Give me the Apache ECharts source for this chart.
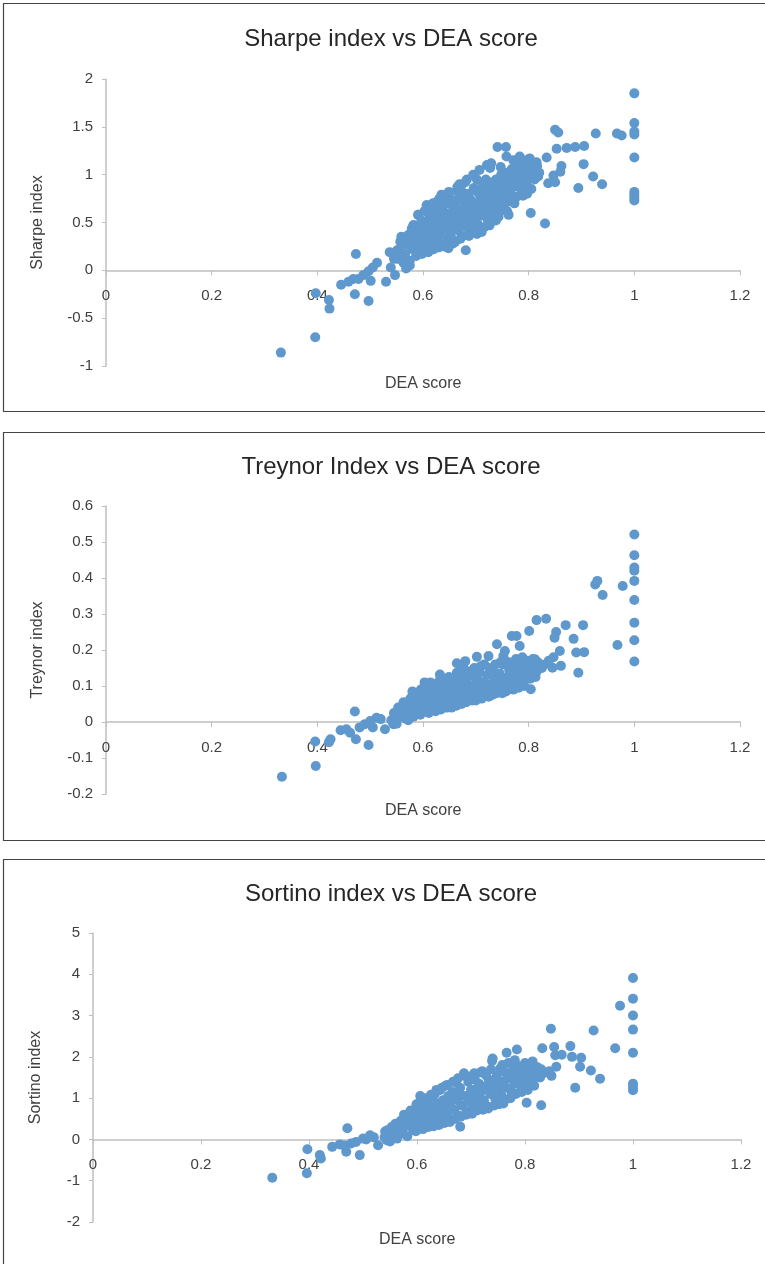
<!DOCTYPE html>
<html>
<head>
<meta charset="utf-8">
<title>Performance indices vs DEA score</title>
<script src="https://cdn.jsdelivr.net/npm/echarts@6/dist/echarts.min.js"></script>
<style>
  html, body { margin: 0; padding: 0; background: #ffffff; }
  #chart { width: 765px; height: 1264px; }
</style>
</head>
<body>
<div id="chart"></div>
<script>
// Panel titles and axis names
const panelTitles = ['Sharpe index vs DEA score', 'Treynor Index vs DEA score', 'Sortino index vs DEA score'];
const yAxisNames = ['Sharpe index', 'Treynor index', 'Sortino index'];
const xAxisName = 'DEA score';

// Axis ranges (min, max, step)
const xRange = [0, 1.2, 0.2];
const yRanges = [[-1, 2, 0.5], [-0.2, 0.6, 0.1], [-2, 5, 1]];

// Sharpe index against DEA score, [dea, sharpe]
const sharpePoints = [
  [1.000,1.85],[1.000,1.54],[1.000,1.45],[1.000,1.42],[1.000,1.18],[1.000,0.82],[1.000,0.79],[1.000,0.76],[1.000,0.73],
  [0.967,1.43],[0.976,1.41],[0.927,1.43],[0.850,1.47],[0.856,1.44],[0.853,1.27],[0.872,1.28],[0.888,1.29],[0.905,1.30],
  [0.834,1.18],[0.904,1.11],[0.862,1.09],[0.847,0.99],[0.860,1.03],[0.922,0.98],[0.939,0.90],[0.894,0.86],[0.837,0.91],[0.850,0.92],
  [0.804,0.60],[0.831,0.49],[0.797,0.80],[0.741,1.29],[0.757,1.29],[0.721,1.10],[0.727,1.07],[0.758,1.19],[0.771,1.15],[0.783,1.19],
  [0.802,1.17],[0.815,1.13],[0.818,0.98],[0.809,1.01],[0.777,0.77],[0.762,0.58],[0.738,0.52],[0.726,0.47],[0.702,0.38],[0.681,0.21],
  [0.635,0.79],[0.631,0.75],[0.665,0.87],[0.607,0.68],[0.591,0.58],[0.582,0.47],[0.579,0.44],[0.557,0.30],
  [0.473,0.17],[0.513,0.08],[0.505,0.03],[0.497,-0.01],[0.487,-0.05],[0.478,-0.09],[0.468,-0.09],[0.459,-0.12],[0.445,-0.15],
  [0.471,-0.25],[0.497,-0.32],[0.501,-0.11],[0.530,-0.12],[0.547,-0.05],[0.539,0.03],[0.575,0.05],[0.568,0.02],[0.588,0.18],
  [0.610,0.19],[0.648,0.23],[0.626,0.24],[0.657,0.28],[0.545,0.12],[0.537,0.19],[0.551,0.21],[0.559,0.35],[0.572,0.37],[0.594,0.35],
  [0.331,-0.86],[0.396,-0.70],[0.397,-0.24],[0.422,-0.31],[0.423,-0.40],
  [0.552,0.12],[0.556,0.22],[0.560,0.30],[0.563,0.08],[0.566,0.17],[0.570,0.27],[0.572,0.36],[0.575,0.10],[0.578,0.40],[0.580,0.22],
  [0.582,0.47],[0.584,0.31],[0.587,0.15],[0.589,0.38],[0.591,0.58],[0.593,0.26],[0.595,0.44],[0.597,0.52],[0.599,0.33],[0.601,0.20],
  [0.603,0.62],[0.605,0.48],[0.607,0.68],[0.608,0.39],[0.610,0.28],[0.612,0.55],[0.614,0.45],[0.616,0.35],[0.618,0.63],[0.620,0.22],
  [0.622,0.50],[0.624,0.41],[0.626,0.58],[0.628,0.30],[0.630,0.66],[0.632,0.47],[0.634,0.37],[0.636,0.55],[0.638,0.26],[0.640,0.61],
  [0.642,0.44],[0.644,0.70],[0.646,0.33],[0.648,0.52],[0.650,0.76],[0.652,0.40],[0.654,0.60],[0.656,0.48],[0.658,0.30],[0.660,0.68],
  [0.662,0.55],[0.664,0.83],[0.666,0.42],[0.668,0.63],[0.670,0.50],[0.672,0.88],[0.674,0.36],[0.676,0.72],[0.678,0.58],[0.680,0.92],
  [0.682,0.45],[0.684,0.66],[0.686,0.80],[0.688,0.52],[0.690,0.74],[0.692,0.40],[0.694,0.62],[0.696,0.86],[0.698,0.55],[0.700,0.70],
  [0.702,0.95],[0.704,0.48],[0.706,0.63],[0.708,0.78],[0.710,0.57],[0.712,0.88],[0.714,0.68],[0.716,0.45],[0.718,0.82],[0.720,0.60],
  [0.722,0.74],[0.724,0.92],[0.726,0.66],[0.728,0.54],[0.730,0.85],[0.732,0.70],[0.734,0.60],[0.736,0.78],[0.738,0.95],[0.740,0.68],
  [0.742,0.88],[0.744,0.74],[0.746,0.62],[0.748,1.00],[0.750,0.82],[0.752,0.70],[0.754,0.92],[0.756,0.78],[0.758,1.02],[0.760,0.86],
  [0.762,0.72],[0.764,0.96],[0.766,0.84],[0.768,1.06],[0.770,0.90],[0.772,0.76],[0.774,1.00],[0.776,0.88],[0.778,1.10],[0.780,0.94],
  [0.782,1.04],[0.784,0.86],[0.786,0.98],[0.788,1.12],[0.790,0.92],[0.792,1.05],[0.794,0.99],[0.796,1.15],[0.798,1.02],[0.800,0.95],
  [0.803,1.08],[0.806,1.00],[0.809,1.12],[0.812,1.04],[0.816,1.09],[0.820,1.02],
  [0.598,0.17],[0.604,0.26],[0.611,0.64],[0.615,0.22],[0.619,0.70],[0.623,0.33],[0.627,0.72],[0.630,0.24],[0.633,0.52],[0.637,0.78],
  [0.641,0.25],[0.645,0.57],[0.649,0.82],[0.653,0.35],[0.657,0.64],[0.661,0.30],[0.665,0.74],[0.669,0.90],[0.671,0.33],[0.675,0.55],
  [0.679,0.80],[0.683,0.95],[0.687,0.36],[0.691,0.60],[0.695,1.00],[0.699,0.48],[0.703,0.82],[0.707,1.05],[0.711,0.40],[0.715,0.75],
  [0.719,0.95],[0.723,0.52],[0.729,1.12],[0.733,0.62],[0.737,0.88],[0.743,0.56],[0.747,1.08],[0.751,0.66],[0.755,0.86],[0.759,0.62],
  [0.765,0.78],[0.769,0.98],[0.773,0.70],[0.779,0.88],[0.785,1.08],[0.789,0.78],[0.795,0.90],[0.801,1.10],[0.805,0.85],[0.811,0.95],
  [0.606,0.40],[0.617,0.52],[0.629,0.42],[0.639,0.50],[0.651,0.45],[0.663,0.48],[0.673,0.62],[0.685,0.56],[0.697,0.64],[0.709,0.68],
  [0.721,0.82],[0.731,0.76],[0.741,0.80],[0.753,0.96]
];

// Treynor index against DEA score, [dea, treynor]
const treynorPoints = [
  [1.000,0.521],[1.000,0.463],[1.000,0.429],[1.000,0.420],[1.000,0.392],[1.000,0.339],[1.000,0.276],[1.000,0.227],[1.000,0.168],
  [0.926,0.382],[0.930,0.392],[0.940,0.353],[0.978,0.378],[0.968,0.214],
  [0.903,0.269],[0.905,0.194],[0.890,0.193],[0.894,0.137],[0.885,0.231],[0.870,0.269],[0.852,0.250],[0.849,0.234],[0.859,0.197],
  [0.861,0.156],[0.845,0.151],[0.833,0.287],[0.815,0.283],[0.801,0.253],[0.804,0.091],[0.812,0.174],[0.783,0.211],[0.777,0.239],
  [0.768,0.239],[0.740,0.216],[0.752,0.183],[0.755,0.197],[0.724,0.183],[0.702,0.181],[0.680,0.169],[0.664,0.163],[0.664,0.137],
  [0.632,0.132],[0.847,0.180],[0.838,0.170],[0.830,0.160],
  [0.471,0.029],[0.512,0.012],[0.500,0.003],[0.490,-0.006],[0.444,-0.023],[0.455,-0.020],[0.462,-0.030],[0.473,-0.048],[0.497,-0.064],
  [0.396,-0.054],[0.422,-0.056],[0.425,-0.048],[0.397,-0.122],[0.333,-0.152],[0.528,-0.020],[0.544,-0.006],[0.520,0.008],[0.505,-0.015],
  [0.480,-0.015],
  [0.540,0.005],[0.545,0.025],[0.550,-0.005],[0.553,0.040],[0.556,0.015],[0.560,0.030],[0.563,0.055],[0.566,0.010],[0.570,0.045],
  [0.573,0.025],[0.576,0.065],[0.579,0.040],[0.582,0.015],[0.585,0.080],[0.588,0.050],[0.590,0.030],[0.593,0.070],[0.596,0.090],
  [0.599,0.045],[0.601,0.060],[0.604,0.100],[0.606,0.030],[0.609,0.075],[0.612,0.055],[0.614,0.110],[0.617,0.040],[0.620,0.085],
  [0.622,0.065],[0.625,0.100],[0.627,0.045],[0.630,0.075],[0.633,0.125],[0.635,0.055],[0.638,0.090],[0.640,0.070],[0.643,0.105],
  [0.645,0.040],[0.648,0.080],[0.650,0.060],[0.653,0.095],[0.656,0.115],[0.658,0.050],[0.661,0.085],[0.664,0.070],[0.666,0.130],
  [0.669,0.100],[0.672,0.060],[0.675,0.090],[0.677,0.150],[0.680,0.075],[0.683,0.110],[0.686,0.065],[0.689,0.095],[0.692,0.130],
  [0.695,0.080],[0.698,0.105],[0.700,0.060],[0.703,0.120],[0.706,0.090],[0.709,0.155],[0.712,0.075],[0.715,0.110],[0.718,0.095],
  [0.721,0.130],[0.724,0.070],[0.727,0.105],[0.730,0.145],[0.733,0.090],[0.736,0.120],[0.739,0.080],[0.742,0.110],[0.745,0.135],
  [0.748,0.095],[0.751,0.160],[0.754,0.115],[0.757,0.085],[0.760,0.125],[0.763,0.145],[0.766,0.100],[0.769,0.130],[0.772,0.110],
  [0.775,0.150],[0.778,0.120],[0.781,0.095],[0.784,0.140],[0.787,0.160],[0.790,0.115],[0.793,0.135],[0.796,0.150],[0.799,0.125],
  [0.802,0.145],[0.806,0.130],[0.810,0.155],[0.815,0.140],[0.820,0.150],
  [0.595,0.020],[0.603,0.110],[0.611,0.025],[0.618,0.095],[0.624,0.030],[0.629,0.110],[0.634,0.035],[0.639,0.115],[0.644,0.045],
  [0.649,0.125],[0.654,0.040],[0.659,0.105],[0.663,0.045],[0.668,0.120],[0.673,0.050],[0.678,0.130],[0.682,0.055],[0.688,0.140],
  [0.693,0.060],[0.697,0.150],[0.702,0.070],[0.707,0.140],[0.711,0.065],[0.716,0.160],[0.720,0.080],[0.726,0.150],[0.731,0.075],
  [0.737,0.160],[0.741,0.090],[0.746,0.165],[0.750,0.080],[0.756,0.170],[0.761,0.100],[0.767,0.165],[0.771,0.090],[0.776,0.175],
  [0.782,0.110],[0.788,0.180],[0.792,0.100],[0.797,0.170],[0.803,0.120],[0.808,0.175],[0.813,0.125],[0.818,0.165],[0.825,0.150],
  [0.580,0.085],[0.572,0.005],[0.586,0.060],[0.700,0.100],[0.735,0.105]
];

// Sortino index against DEA score, [dea, sortino]
const sortinoPoints = [
  [1.000,3.91],[1.000,3.41],[1.000,3.00],[1.000,2.66],[1.000,2.10],[1.000,1.35],[1.000,1.27],[1.000,1.19],
  [0.976,3.24],[0.967,2.21],[0.927,2.64],[0.939,1.47],[0.922,1.67],[0.904,1.98],[0.902,1.76],[0.887,2.00],[0.884,2.26],[0.893,1.25],
  [0.868,2.05],[0.856,2.04],[0.854,2.24],[0.848,2.68],[0.832,2.21],[0.858,1.76],[0.849,1.54],[0.845,1.65],[0.830,0.83],[0.803,0.89],
  [0.814,1.89],[0.785,2.18],[0.766,2.10],[0.740,1.96],[0.781,1.92],[0.760,0.87],[0.680,0.31],[0.830,1.70],[0.822,1.55],[0.812,1.73],
  [0.838,1.62],
  [0.471,0.27],[0.513,0.10],[0.500,0.02],[0.487,-0.06],[0.478,-0.10],[0.457,-0.12],[0.443,-0.18],[0.466,-0.15],[0.469,-0.30],
  [0.494,-0.38],[0.528,-0.14],[0.544,-0.02],[0.541,0.19],[0.520,0.05],[0.506,0.00],
  [0.397,-0.24],[0.420,-0.38],[0.422,-0.46],[0.396,-0.82],[0.332,-0.93],
  [0.540,0.05],[0.545,0.22],[0.550,-0.05],[0.553,0.30],[0.556,0.12],[0.560,0.38],[0.563,0.02],[0.566,0.25],[0.570,0.45],[0.573,0.15],
  [0.576,0.60],[0.579,0.32],[0.582,0.08],[0.585,0.52],[0.588,0.70],[0.590,0.40],[0.593,0.22],[0.596,0.62],[0.599,0.85],[0.601,0.48],
  [0.604,0.30],[0.606,1.05],[0.609,0.70],[0.612,0.55],[0.614,0.38],[0.617,0.82],[0.620,0.62],[0.622,0.95],[0.625,0.45],[0.627,0.75],
  [0.630,0.58],[0.633,1.10],[0.635,0.88],[0.638,0.40],[0.640,0.68],[0.643,1.20],[0.645,0.52],[0.648,0.95],[0.650,0.78],[0.653,1.30],
  [0.656,0.62],[0.658,1.05],[0.661,0.85],[0.664,0.48],[0.666,1.15],[0.669,0.72],[0.672,1.38],[0.675,0.95],[0.677,0.58],[0.680,1.25],
  [0.683,0.82],[0.686,1.55],[0.689,1.05],[0.692,0.68],[0.695,1.40],[0.698,0.90],[0.700,1.20],[0.703,0.75],[0.706,1.60],[0.709,1.08],
  [0.712,0.88],[0.715,1.35],[0.718,1.15],[0.721,1.65],[0.724,0.95],[0.727,1.28],[0.730,0.80],[0.733,1.45],[0.736,1.10],[0.739,1.90],
  [0.742,1.30],[0.745,0.98],[0.748,1.55],[0.751,1.20],[0.754,1.72],[0.757,1.05],[0.760,1.40],[0.763,1.62],[0.766,1.25],[0.769,1.85],
  [0.772,1.48],[0.775,1.15],[0.778,1.68],[0.781,1.35],[0.784,1.55],[0.787,1.78],[0.790,1.42],[0.793,1.25],[0.796,1.62],[0.799,1.50],
  [0.802,1.72],[0.806,1.38],[0.810,1.58],[0.815,1.45],[0.820,1.65],
  [0.598,0.20],[0.605,0.90],[0.611,0.25],[0.616,1.00],[0.621,0.30],[0.626,1.08],[0.631,0.32],[0.636,1.20],[0.641,0.35],[0.646,1.25],
  [0.651,0.40],[0.656,1.32],[0.661,0.42],[0.667,1.40],[0.671,0.50],[0.676,1.48],[0.681,0.55],[0.687,1.60],[0.691,0.60],[0.697,1.52],
  [0.702,0.62],[0.707,1.45],[0.711,0.70],[0.717,1.62],[0.722,0.72],[0.728,1.55],[0.732,0.75],[0.737,1.70],[0.743,0.82],[0.747,1.40],
  [0.752,0.85],[0.758,1.80],[0.762,0.95],[0.768,1.60],[0.773,1.00],[0.779,1.85],[0.783,1.10],[0.789,1.70],[0.794,1.15],[0.800,1.85],
  [0.805,1.20],[0.811,1.50],[0.817,1.30],[0.823,1.75],[0.828,1.50],[0.590,0.60],[0.603,0.68],[0.618,0.50],[0.632,0.85],[0.647,0.70],
  [0.662,1.00],[0.678,1.10],[0.694,1.00],[0.712,1.25],[0.731,1.20],[0.750,1.35]
];

const panelData = [sharpePoints, treynorPoints, sortinoPoints];

// Layout of the three stacked panels
const FONT = 'Liberation Sans';
const panels = [
  { frameTop: 3.5, frameBottom: 411.5, titleTop: 27, gridTop: 79, gridHeight: 287, gridLeft: 106, gridRight: 25, xNameY: 384, nameGap: 60 },
  { frameTop: 432.5, frameBottom: 840.5, titleTop: 455, gridTop: 506, gridHeight: 288, gridLeft: 106, gridRight: 25, xNameY: 811, nameGap: 60 },
  { frameTop: 859.5, frameBottom: 1290, titleTop: 882, gridTop: 933, gridHeight: 289, gridLeft: 93, gridRight: 24, xNameY: 1240, nameGap: 49 }
];

const axisGray = '#bfbfbf';
const labelColor = '#404040';
const dotColor = '#5f98cd';

// The horizontal axis crosses the vertical one at zero: shift it up from the grid bottom
function zeroOffset(i) {
  const [lo, hi] = yRanges[i];
  return -panels[i].gridHeight * (0 - lo) / (hi - lo);
}

const option = {
  animation: false,
  backgroundColor: '#ffffff',
  textStyle: { fontFamily: FONT },
  title: panels.map((p, i) => ({
    text: panelTitles[i],
    left: 391,
    textAlign: 'center',
    top: p.titleTop,
    padding: 0,
    textStyle: { fontFamily: FONT, fontSize: 24, fontWeight: 'normal', color: '#262626' }
  })),
  grid: panels.map(p => ({
    left: p.gridLeft, right: p.gridRight, top: p.gridTop, height: p.gridHeight, containLabel: false
  })),
  xAxis: panels.map((p, i) => ({
    type: 'value',
    gridIndex: i,
    position: 'bottom',
    offset: zeroOffset(i),
    min: xRange[0], max: xRange[1], interval: xRange[2],
    axisLine: { show: true, onZero: false, lineStyle: { color: axisGray, width: 1.5 } },
    axisTick: { show: true, length: 5, lineStyle: { color: axisGray, width: 1 } },
    axisLabel: { margin: 18, fontSize: 15, color: labelColor, fontFamily: FONT },
    splitLine: { show: false }
  })),
  yAxis: panels.map((p, i) => ({
    type: 'value',
    gridIndex: i,
    min: yRanges[i][0], max: yRanges[i][1], interval: yRanges[i][2],
    name: yAxisNames[i],
    nameLocation: 'middle',
    nameRotate: 90,
    nameGap: p.nameGap,
    nameTextStyle: { fontSize: 16, color: labelColor, fontFamily: FONT },
    axisLine: { show: true, onZero: false, lineStyle: { color: axisGray, width: 1.5 } },
    axisTick: { show: true, length: 4, lineStyle: { color: axisGray, width: 1 } },
    axisLabel: { margin: 13, fontSize: 15, color: labelColor, fontFamily: FONT },
    splitLine: { show: false }
  })),
  graphic: panels.flatMap(p => [
    {
      type: 'rect',
      shape: { x: 3.5, y: p.frameTop, width: 800, height: p.frameBottom - p.frameTop },
      style: { fill: 'none', stroke: '#444444', lineWidth: 1.2 },
      silent: true, z: -1
    },
    {
      type: 'text',
      left: p.gridLeft + (765 - p.gridLeft - p.gridRight) / 2 - 38,
      top: p.xNameY - 8,
      style: { text: xAxisName, font: '16px "' + FONT + '"', fill: labelColor },
      silent: true
    }
  ]),
  series: panelData.map((pts, i) => ({
    type: 'scatter',
    xAxisIndex: i,
    yAxisIndex: i,
    data: pts,
    symbol: 'circle',
    symbolSize: 10,
    itemStyle: { color: dotColor, opacity: 1 },
    emphasis: { disabled: true }
  }))
};

const chart = echarts.init(document.getElementById('chart'), null, { renderer: 'canvas' });
chart.setOption(option);
</script>
</body>
</html>
